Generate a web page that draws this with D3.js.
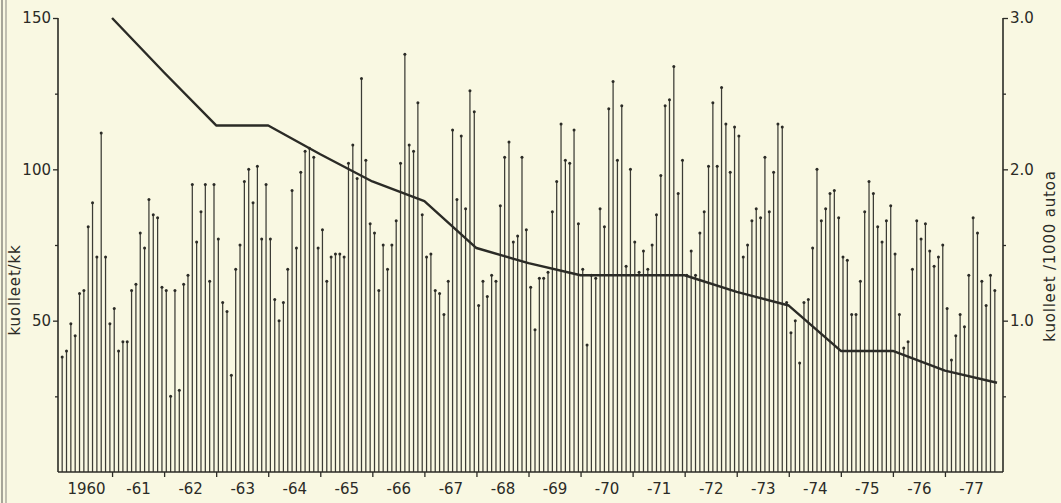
<!DOCTYPE html>
<html>
<head>
<meta charset="utf-8">
<script src="https://cdn.jsdelivr.net/npm/d3@7"></script>
<style>
  html, body { margin: 0; padding: 0; background: #f9f8e2; }
  svg { display: block; }
  text { font-family: "DejaVu Sans", sans-serif; fill: #2b2b26; }
</style>
</head>
<body>
<svg id="chart" width="1061" height="503"></svg>
<script>
// ---- data ----
const yearLabels = ["1960","-61","-62","-63","-64","-65","-66","-67","-68","-69","-70","-71","-72","-73","-74","-75","-76","-77"];

// monthly deaths (kuolleet/kk), Jan..Dec for each year
const deaths1960 = [38, 40, 49, 45, 59, 60, 81, 89, 71, 112, 71, 49];
const deaths1961 = [54, 40, 43, 43, 60, 62, 79, 74, 90, 85, 84, 61];
const deaths1962 = [60, 25, 60, 27, 62, 65, 95, 76, 86, 95, 63, 95];
const deaths1963 = [77, 56, 53, 32, 67, 75, 96, 100, 89, 101, 77, 95];
const deaths1964 = [77, 57, 50, 56, 67, 93, 74, 99, 106, 107, 104, 74];
const deaths1965 = [80, 63, 71, 72, 72, 71, 102, 108, 97, 130, 103, 82];
const deaths1966 = [79, 60, 75, 67, 75, 83, 102, 138, 108, 106, 122, 85];
const deaths1967 = [71, 72, 60, 59, 52, 63, 113, 90, 111, 87, 126, 119];
const deaths1968 = [55, 63, 58, 65, 63, 88, 104, 109, 76, 78, 104, 80];
const deaths1969 = [61, 47, 64, 64, 66, 86, 96, 115, 103, 102, 113, 82];
const deaths1970 = [67, 42, 65, 64, 87, 81, 120, 129, 103, 121, 68, 100];
const deaths1971 = [76, 66, 73, 67, 75, 85, 98, 121, 123, 134, 92, 103];
const deaths1972 = [65, 73, 65, 79, 86, 101, 122, 101, 127, 115, 99, 114];
const deaths1973 = [111, 71, 75, 83, 87, 84, 104, 86, 99, 115, 114, 56];
const deaths1974 = [46, 50, 36, 56, 57, 74, 100, 83, 87, 92, 93, 84];
const deaths1975 = [71, 70, 52, 52, 63, 86, 96, 92, 81, 76, 83, 88];
const deaths1976 = [72, 52, 41, 43, 67, 83, 77, 82, 73, 68, 71, 75];
const deaths1977 = [54, 37, 45, 52, 48, 65, 84, 79, 63, 55, 65, 60];

// yearly deaths per 1000 cars (kuolleet/1000 autoa)
const ratePer1000Cars = [3.0, 2.64, 2.29, 2.29, 2.10, 1.92, 1.79, 1.48, 1.38, 1.30, 1.30, 1.30, 1.19, 1.10, 0.80, 0.80, 0.67, 0.59];

const leftTicks = [50, 100, 150];
const leftMinorTicks = [25, 75, 125];
const rightTicks = [1.0, 2.0, 3.0];
const rightMinorTicks = [0.5, 1.5, 2.5];

const monthly = [deaths1960, deaths1961, deaths1962, deaths1963, deaths1964, deaths1965,
  deaths1966, deaths1967, deaths1968, deaths1969, deaths1970, deaths1971, deaths1972,
  deaths1973, deaths1974, deaths1975, deaths1976, deaths1977].flat();

// ---- layout ----
const svg = d3.select("#chart");
const ink = "#2b2b26";
const plotL = 58, plotR = 1003, plotT = 18, plotB = 472;

svg.append("rect").attr("width", 1061).attr("height", 503).attr("fill", "#f9f8e2");
// scanned page border at left
svg.append("line").attr("x1", 2).attr("x2", 2).attr("y1", 0).attr("y2", 503).attr("stroke", "#8a8a80").attr("stroke-width", 1.5);
svg.append("line").attr("x1", 6).attr("x2", 6).attr("y1", 0).attr("y2", 503).attr("stroke", "#9a9a90").attr("stroke-width", 1.2);

const x = d3.scaleLinear().domain([0, monthly.length]).range([60, 997]);
const yL = d3.scaleLinear().domain([0, 150]).range([plotB, plotT]);
const yR = d3.scaleLinear().domain([0, 3]).range([plotB, plotT]);

// spikes
const g = svg.append("g");
g.selectAll("line.spike").data(monthly).join("line")
  .attr("class", "spike")
  .attr("x1", (d, i) => x(i + 0.5)).attr("x2", (d, i) => x(i + 0.5))
  .attr("y1", yL(0)).attr("y2", d => yL(d))
  .attr("stroke", "#3c3c35").attr("stroke-width", 1.25);
g.selectAll("circle.dot").data(monthly).join("circle")
  .attr("class", "dot")
  .attr("cx", (d, i) => x(i + 0.5)).attr("cy", d => yL(d))
  .attr("r", 1.5).attr("fill", ink);

// line (per-year value at end of each year)
const line = d3.line().x((d, i) => x(12 * (i + 1))).y(d => yR(d));
svg.append("path").datum(ratePer1000Cars)
  .attr("d", line).attr("fill", "none")
  .attr("stroke", ink).attr("stroke-width", 2.4).attr("stroke-linejoin", "round");

// axes
function styleAxis(sel) {
  sel.select(".domain").remove();
  sel.selectAll(".tick line").attr("stroke", ink).attr("stroke-width", 1.3);
  sel.selectAll("text").attr("fill", ink).style("font-size", "15px").style("font-family", '"DejaVu Sans", sans-serif');
}
// axis lines
svg.append("line").attr("x1", plotL).attr("x2", plotL).attr("y1", plotT).attr("y2", plotB).attr("stroke", ink).attr("stroke-width", 1.6);
svg.append("line").attr("x1", plotR).attr("x2", plotR).attr("y1", plotT).attr("y2", plotB).attr("stroke", ink).attr("stroke-width", 1.6);
svg.append("line").attr("x1", plotL).attr("x2", plotR).attr("y1", plotB).attr("y2", plotB).attr("stroke", ink).attr("stroke-width", 1.6);

svg.append("g").attr("transform", `translate(${plotL},0)`)
  .call(d3.axisLeft(yL).tickValues(leftTicks).tickSize(5).tickPadding(2).tickFormat(d3.format("d")))
  .call(styleAxis);
svg.append("g").attr("transform", `translate(${plotL},0)`)
  .call(d3.axisLeft(yL).tickValues(leftMinorTicks).tickSize(3).tickFormat(""))
  .call(styleAxis);
svg.append("g").attr("transform", `translate(${plotR},0)`)
  .call(d3.axisRight(yR).tickValues(rightTicks).tickSize(5).tickPadding(2).tickFormat(d3.format(".1f")))
  .call(styleAxis);
svg.append("g").attr("transform", `translate(${plotR},0)`)
  .call(d3.axisRight(yR).tickValues(rightMinorTicks).tickSize(3).tickFormat(""))
  .call(styleAxis);

// bottom: ticks at year boundaries, labels at year centres
const boundaries = d3.range(1, yearLabels.length).map(k => 12 * k);
svg.append("g").attr("transform", `translate(0,${plotB})`)
  .call(d3.axisBottom(x).tickValues(boundaries).tickSize(5).tickFormat(""))
  .call(styleAxis);
const xLab = d3.scalePoint().domain(yearLabels).range([x(6), x(12 * (yearLabels.length - 1) + 6)]);
svg.append("g").attr("transform", `translate(0,${plotB})`)
  .call(d3.axisBottom(xLab).tickSize(0).tickPadding(11))
  .call(styleAxis);

// axis titles
svg.append("text").attr("transform", "translate(20,290) rotate(-90)")
  .attr("text-anchor", "middle").style("font-size", "15px").style("letter-spacing", "0.8px")
  .text("kuolleet/kk");
svg.append("text").attr("transform", "translate(1055,256) rotate(-90)")
  .attr("text-anchor", "middle").style("font-size", "15px").style("letter-spacing", "0.8px")
  .text("kuolleet /1000 autoa");
</script>
</body>
</html>
